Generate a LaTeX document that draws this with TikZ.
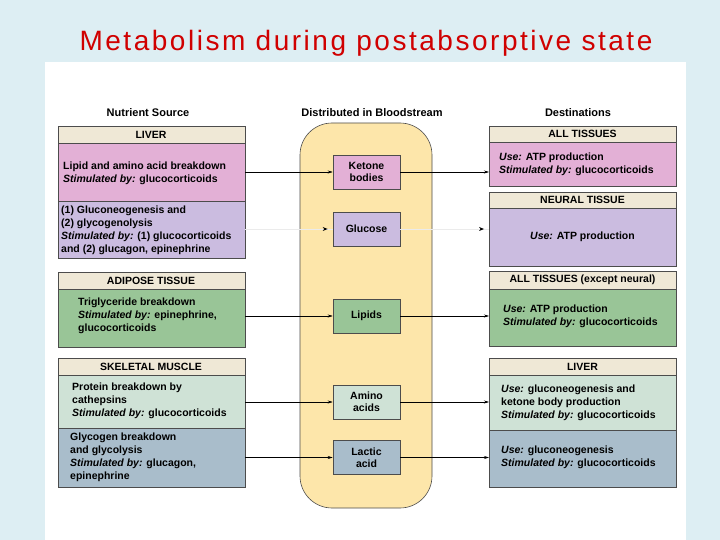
\documentclass[tikz,border=0pt]{standalone}
\usepackage{fontspec}
\setmainfont{Liberation Sans}
\usetikzlibrary{arrows.meta}
\definecolor{bgc}{HTML}{DDEEF3}
\definecolor{hdr}{HTML}{EFE8D6}
\definecolor{pnk}{HTML}{E3B0D6}
\definecolor{prp}{HTML}{CBBCE0}
\definecolor{grn}{HTML}{99C597}
\definecolor{lgr}{HTML}{CFE2D6}
\definecolor{blg}{HTML}{A9BDCB}
\definecolor{yel}{HTML}{FDE6AA}
\definecolor{ttl}{HTML}{D00000}
\begin{document}
\begin{tikzpicture}[x=1pt,y=-1pt,
  box/.style={draw=black!70,line width=0.6pt},
  hd/.style={font=\fontsize{10.5}{12}\selectfont\bfseries,inner sep=0pt},
  tx/.style={font=\fontsize{10.5}{13}\selectfont\bfseries,align=left,anchor=west,inner sep=0pt},
  ctx/.style={font=\fontsize{10.5}{12}\selectfont\bfseries,align=center},
  arr/.style={-{Stealth[length=5pt,width=3pt]},line width=0.5pt}]
\useasboundingbox (0,0) rectangle (720,540);
\fill[bgc] (0,0) rectangle (720,540);
\fill[white] (45,62) rectangle (686,540);
\node[text=ttl,font=\fontsize{28}{30}\selectfont\addfontfeature{LetterSpace=9}] (title) at (366,43) {Metabolism during postabsorptive state};
\node[font=\fontsize{11}{12}\selectfont\bfseries] (h1) at (148,113) {Nutrient Source};
\node[font=\fontsize{11}{12}\selectfont\bfseries] (h2) at (372,113) {Distributed in Bloodstream};
\node[font=\fontsize{11}{12}\selectfont\bfseries] (h3) at (578,113) {Destinations};
% bloodstream
\draw[box,fill=yel,rounded corners=32pt] (300,123) rectangle (432,508);
% left
\draw[box,fill=hdr] (58,126) rectangle (245,143); \node[hd] (l1) at (151,134.5) {LIVER};
\draw[box,fill=pnk] (58,143) rectangle (245,201);
\node[tx] (l1a) at (63,173) {Lipid and amino acid breakdown\\\textit{Stimulated by:} glucocorticoids};
\draw[box,fill=prp] (58,201) rectangle (245,258);
\node[tx] (l1b) at (61,230) {(1) Gluconeogenesis and\\(2) glycogenolysis\\\textit{Stimulated by:} (1) glucocorticoids\\and (2) glucagon, epinephrine};
\draw[box,fill=hdr] (58,272) rectangle (245,289); \node[hd] (l2) at (151,280.5) {ADIPOSE TISSUE};
\draw[box,fill=grn] (58,289) rectangle (245,347);
\node[tx] (l2a) at (78,316) {Triglyceride breakdown\\\textit{Stimulated by:} epinephrine,\\glucocorticoids};
\draw[box,fill=hdr] (58,358) rectangle (245,375); \node[hd] (l3) at (151,366.5) {SKELETAL MUSCLE};
\draw[box,fill=lgr] (58,375) rectangle (245,428);
\node[tx] (l3a) at (72,401) {Protein breakdown by\\cathepsins\\\textit{Stimulated by:} glucocorticoids};
\draw[box,fill=blg] (58,428) rectangle (245,487);
\node[tx] (l3b) at (70,457) {Glycogen breakdown\\and glycolysis\\\textit{Stimulated by:} glucagon,\\epinephrine};
% middle
\node[box,fill=pnk,minimum width=67pt,minimum height=34pt,ctx] (ket) at (366.5,172) {Ketone\\bodies};
\node[box,fill=prp,minimum width=67pt,minimum height=34pt,ctx] (glu) at (366.5,229) {Glucose};
\node[box,fill=grn,minimum width=67pt,minimum height=34pt,ctx] (lip) at (366.5,316) {Lipids};
\node[box,fill=lgr,minimum width=67pt,minimum height=34pt,ctx] (ami) at (366.5,402) {Amino\\acids};
\node[box,fill=blg,minimum width=67pt,minimum height=34pt,ctx] (lac) at (366.5,457.5) {Lactic\\acid};
% right
\draw[box,fill=hdr] (489,126) rectangle (676,142); \node[hd] (r1) at (582.5,134) {ALL TISSUES};
\draw[box,fill=pnk] (489,142) rectangle (676,186);
\node[tx] (r1a) at (499,164) {\textit{Use:} ATP production\\\textit{Stimulated by:} glucocorticoids};
\draw[box,fill=hdr] (489,192) rectangle (676,208); \node[hd] (r2) at (582.5,200) {NEURAL TISSUE};
\draw[box,fill=prp] (489,208) rectangle (676,266);
\node[ctx] (r2a) at (582.5,237) {\textit{Use:} ATP production};
\draw[box,fill=hdr] (489,271) rectangle (676,289); \node[hd] (r3) at (582.5,280) {ALL TISSUES (except neural)};
\draw[box,fill=grn] (489,289) rectangle (676,346);
\node[tx] (r3a) at (503,316) {\textit{Use:} ATP production\\\textit{Stimulated by:} glucocorticoids};
\draw[box,fill=hdr] (489,358) rectangle (676,375); \node[hd] (r4) at (582.5,366.5) {LIVER};
\draw[box,fill=lgr] (489,375) rectangle (676,430);
\node[tx] (r4a) at (501,403) {\textit{Use:} gluconeogenesis and\\ketone body production\\\textit{Stimulated by:} glucocorticoids};
\draw[box,fill=blg] (489,430) rectangle (676,487);
\node[tx] (r4b) at (501,457) {\textit{Use:} gluconeogenesis\\\textit{Stimulated by:} glucocorticoids};
% arrows
\coordinate (a1) at (245,172); \coordinate (b1) at (489,172);
\coordinate (a2) at (245,229); \coordinate (b2) at (489,229);
\coordinate (a3) at (245,316); \coordinate (b3) at (489,316);
\coordinate (a4) at (245,402); \coordinate (b4) at (489,402);
\coordinate (a5) at (245,457.5); \coordinate (b5) at (489,457.5);
\draw[arr] (a1) -- (ket.west); \draw[arr] (ket.east) -- (b1);
\draw[draw=black!8] (a2) -- (glu.west); \draw[draw=black!8] (glu.east) -- (b2);
\fill (glu.west) ++(-5,0) -- ++(-5,-2) -- ++(1.5,2) -- ++(-1.5,2) -- cycle;
\fill (b2) ++(-5,0) -- ++(-5,-2) -- ++(1.5,2) -- ++(-1.5,2) -- cycle;
\draw[arr] (a3) -- (lip.west); \draw[arr] (lip.east) -- (b3);
\draw[arr] (a4) -- (ami.west); \draw[arr] (ami.east) -- (b4);
\draw[arr] (a5) -- (lac.west); \draw[arr] (lac.east) -- (b5);
\end{tikzpicture}
\end{document}
